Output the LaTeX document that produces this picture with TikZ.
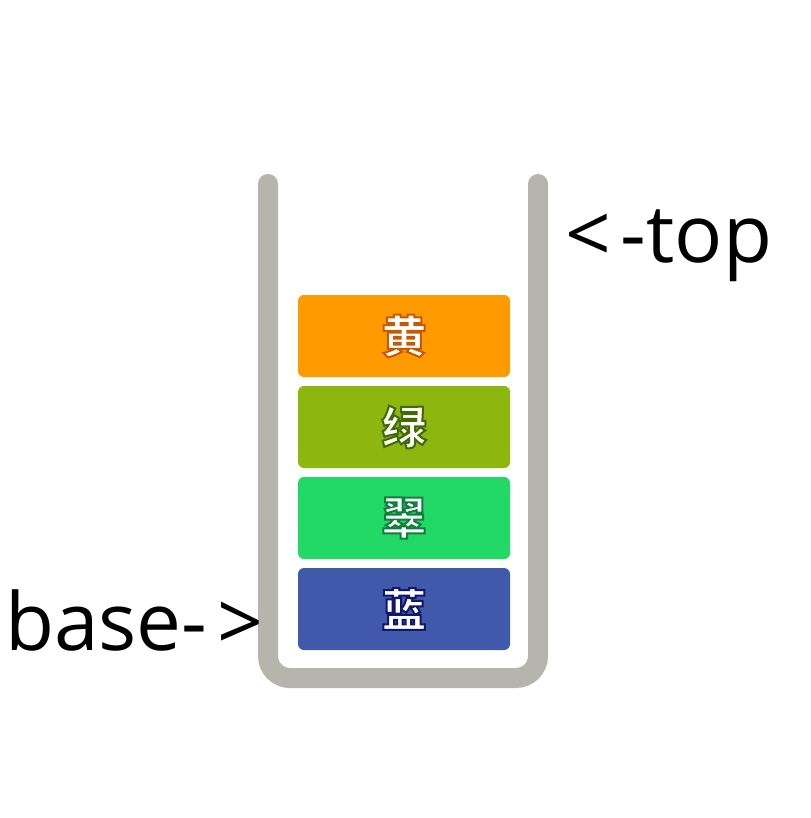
\documentclass[tikz,border=0pt]{standalone}
\usepackage{fontspec}
\usepackage{xcolor}
\usepackage{tikz}
\newfontfamily\cjk{Noto Sans CJK SC}
\newfontfamily\labelfont{Open Sans}
\definecolor{wallgray}{HTML}{B5B5AE}
\definecolor{huang}{HTML}{FF9A00}
\definecolor{lv}{HTML}{8DB60F}
\definecolor{cui}{HTML}{22D866}
\definecolor{lan}{HTML}{4159AB}
% white glyph with a thin dark edge (fill, then stroke)
\newcommand{\hanzi}[2]{{\cjk\bfseries\color{white}\special{pdf:literal direct 2 Tr 2 w #1 RG}#2\special{pdf:literal direct 0 Tr}}}
\tikzset{
  block/.style={rounded corners=6pt, minimum width=212pt, minimum height=82pt,
    inner sep=0pt, font=\fontsize{45}{45}\selectfont},
  tag/.style={anchor=base west, inner sep=0pt, font=\labelfont\fontsize{80}{80}\selectfont}
}

\begin{document}
\begin{tikzpicture}[x=1pt,y=-1pt]
			\useasboundingbox[fill=white] (0,0) rectangle (810,818);
			\draw[wallgray, line width=20pt, line cap=round, rounded corners=22pt]
				(268,184) -- (268,678) -- (538,678) -- (538,184);
			\node[block, fill=huang] (yellow) at (404,336) {\hanzi{0.78 0.35 0}{黄}};
			\node[block, fill=lv] (green) at (404,427) {\hanzi{0.25 0.42 0}{绿}};
			\node[block, fill=cui] (emerald) at (404,518) {\hanzi{0.06 0.5 0.23}{翠}};
			\node[block, fill=lan] (blue) at (404,609) {\hanzi{0.06 0.09 0.44}{蓝}};
			\node[tag] (top) at (565,262) {<\kern10pt-top};
			\node[tag] (base) at (5,650) {base-\kern10pt>};
		\end{tikzpicture}
\end{document}
